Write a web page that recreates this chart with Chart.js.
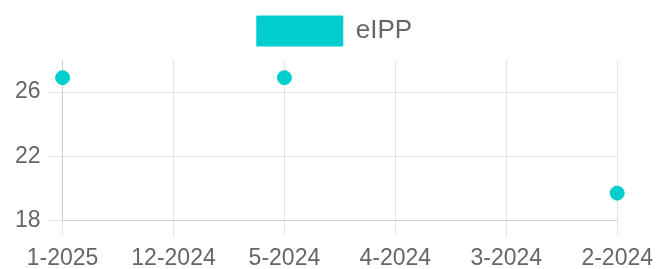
<!DOCTYPE html>
<html>
<head>
<meta charset="utf-8">
<script src="https://cdn.jsdelivr.net/npm/chart.js@4"></script>
<style>
  body { margin: 0; background: #fff; }
  #wrap { width: 662px; height: 269px; }
</style>
</head>
<body>
<div id="wrap"><canvas id="eippChart"></canvas></div>
<script>
    // values
    const months = ['1-2025', '12-2024', '5-2024', '4-2024', '3-2024', '2-2024'];
    const eippValues = [26.9, null, 26.9, null, null, 19.7];
    const yTicks = [18, 22, 26];

    const ctx = document.getElementById('eippChart').getContext('2d');

    Chart.defaults.font.family = '"Liberation Sans", Arial, sans-serif';
    Chart.defaults.color = '#666';

    // a little extra room under the legend, and nudge it right a bit
    const legendTweak = {
        id: 'legendTweak',
        beforeInit(chart) {
            const fit = chart.legend.fit;
            chart.legend.fit = function () {
                fit.bind(chart.legend)();
                this.height += 4;
            };
        },
        afterLayout(chart) {
            chart.legend.left += 8;
            chart.legend.right += 8;
        }
    };

    const eippChart = new Chart(ctx, {
        type: 'line',
        data: {
            labels: months,
            datasets: [{
                label: 'eIPP',
                data: eippValues,
                backgroundColor: '#00CDCD',
                borderColor: '#00CDCD',
                borderWidth: 1,
                pointRadius: 7,
                pointHoverRadius: 7,
                spanGaps: false
            }]
        },
        options: {
            responsive: true,
            maintainAspectRatio: false,
            animation: false,
            layout: {
                padding: { left: 8, right: 17, top: 1, bottom: -12 }
            },
            plugins: {
                legend: {
                    display: true,
                    labels: {
                        boxWidth: 86,
                        boxHeight: 30,
                        padding: 15,
                        font: { size: 26 }
                    }
                },
                tooltip: { enabled: false }
            },
            scales: {
                x: {
                    grid: { color: 'rgba(0,0,0,0.1)', tickLength: 15 },
                    ticks: { font: { size: 23 }, padding: 9, maxRotation: 0 }
                },
                y: {
                    min: 18,
                    max: 28,
                    afterBuildTicks: (axis) => {
                        axis.ticks = yTicks.map(v => ({ value: v }));
                    },
                    grid: { color: 'rgba(0,0,0,0.1)', tickLength: 15 },
                    ticks: { font: { size: 23 }, padding: 7 }
                }
            }
        },
        plugins: [legendTweak]
    });
</script>
</body>
</html>
